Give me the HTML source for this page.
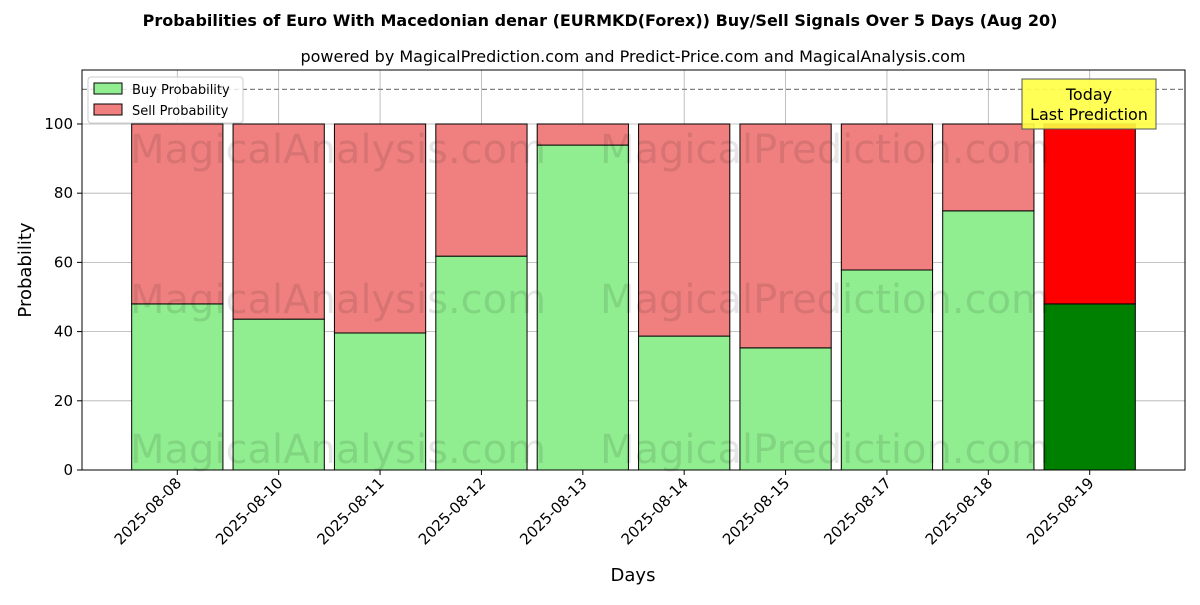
<!DOCTYPE html>
<html><head><meta charset="utf-8"><style>
body{margin:0;background:#fff;font-family:"Liberation Sans","DejaVu Sans",sans-serif}
</style></head><body>
<svg id="chart" width="1200" height="600" xmlns="http://www.w3.org/2000/svg" font-family="DejaVu Sans, Liberation Sans, sans-serif">
<rect width="1200" height="600" fill="#fff"/>
<text x="600" y="26" text-anchor="middle" font-size="16" font-weight="bold">Probabilities of Euro With Macedonian denar (EURMKD(Forex)) Buy/Sell Signals Over 5 Days (Aug 20)</text>
<text x="633" y="62" text-anchor="middle" font-size="16">powered by MagicalPrediction.com and Predict-Price.com and MagicalAnalysis.com</text>
<g id="grid"></g>
<g id="bars"></g>
<g id="watermarks" font-size="40" fill="#000" fill-opacity="0.1">
<text x="130" y="163">MagicalAnalysis.com</text>
<text x="600" y="163">MagicalPrediction.com</text>
<text x="130" y="313">MagicalAnalysis.com</text>
<text x="600" y="313">MagicalPrediction.com</text>
<text x="130" y="463">MagicalAnalysis.com</text>
<text x="600" y="463">MagicalPrediction.com</text>
</g>
<line x1="82" x2="1185" y1="89.4" y2="89.4" stroke="#808080" stroke-dasharray="5,3" stroke-width="1.2"/>
<rect x="82" y="70" width="1103" height="400" fill="none" stroke="#000" stroke-width="1"/>
<g id="ticks"></g>
<g>
<rect x="1022" y="79" width="134" height="50" fill="#ffff44" fill-opacity="0.9" stroke="#555"/>
<text x="1089" y="100" text-anchor="middle" font-size="16">Today</text>
<text x="1089" y="120" text-anchor="middle" font-size="16">Last Prediction</text>
</g>
<g>
<rect x="88" y="77" width="155" height="46" fill="#fff" fill-opacity="0.8" stroke="#ccc" rx="3"/>
<rect x="94" y="83" width="28" height="11" fill="#90ee90" stroke="#000"/>
<text x="132" y="94" font-size="13">Buy Probability</text>
<rect x="94" y="104" width="28" height="11" fill="#f08080" stroke="#000"/>
<text x="132" y="115" font-size="13">Sell Probability</text>
</g>
<text x="633" y="581" text-anchor="middle" font-size="18">Days</text>
<text transform="translate(31,270) rotate(-90)" text-anchor="middle" font-size="18">Probability</text>
</svg>
<script>
const categories=["2025-08-08","2025-08-10","2025-08-11","2025-08-12","2025-08-13","2025-08-14","2025-08-15","2025-08-17","2025-08-18","2025-08-19"];
const buyValues=[48,43.6,39.6,61.8,93.9,38.7,35.3,57.8,74.9,48];
const sellValues=[52,56.4,60.4,38.2,6.1,61.3,64.7,42.2,25.1,52];
const yTicks=[0,20,40,60,80,100];
const NS="http://www.w3.org/2000/svg";
const L=82,R=1185,T=70,B=470,xmin=-0.94,xmax=categories.length-1+0.94,ymax=115.6;
const xs=i=>L+(i-xmin)/(xmax-xmin)*(R-L);
const ys=v=>B-v/ymax*(B-T);
const bw=0.9*(R-L)/(xmax-xmin);
function mk(tag,attrs,parent){const e=document.createElementNS(NS,tag);for(const k in attrs)e.setAttribute(k,attrs[k]);parent.appendChild(e);return e;}
const grid=document.getElementById('grid'),bars=document.getElementById('bars'),ticks=document.getElementById('ticks');
yTicks.forEach(v=>{
 const g=mk('line',{x1:L,x2:R,y1:ys(v),y2:ys(v),stroke:'#b0b0b0','stroke-width':0.8},grid);
 
 
 const tk=mk('line',{x1:L-5,x2:L,y1:ys(v),y2:ys(v),stroke:'#000'},ticks);
 
 
 const t=mk('text',{x:L-9,y:ys(v)+5,'text-anchor':'end','font-size':15},ticks);
 t.textContent=v;
 
 
});
categories.forEach((c,i)=>{
 const x=xs(i);
 const g=mk('line',{x1:x,x2:x,y1:T,y2:B,stroke:'#b0b0b0','stroke-width':0.8},grid);
 
 
 const last=i===categories.length-1;
 const b=mk('rect',{x:x-bw/2,y:ys(buyValues[i]),width:bw,height:ys(0)-ys(buyValues[i]),fill:last?'#008000':'#90ee90',stroke:'#000','stroke-width':1},bars);
 
 
 const s=mk('rect',{x:x-bw/2,y:ys(buyValues[i]+sellValues[i]),width:bw,height:ys(buyValues[i])-ys(buyValues[i]+sellValues[i]),fill:last?'#ff0000':'#f08080',stroke:'#000','stroke-width':1},bars);
 
 
 const tk=mk('line',{x1:x,x2:x,y1:B,y2:B+5,stroke:'#000'},ticks);
 
 
 const t=mk('text',{transform:`translate(${x+5},${B+14}) rotate(-45)`,'text-anchor':'end','font-size':15},ticks);
 t.textContent=c;
 
 
});
</script>
</body></html>
